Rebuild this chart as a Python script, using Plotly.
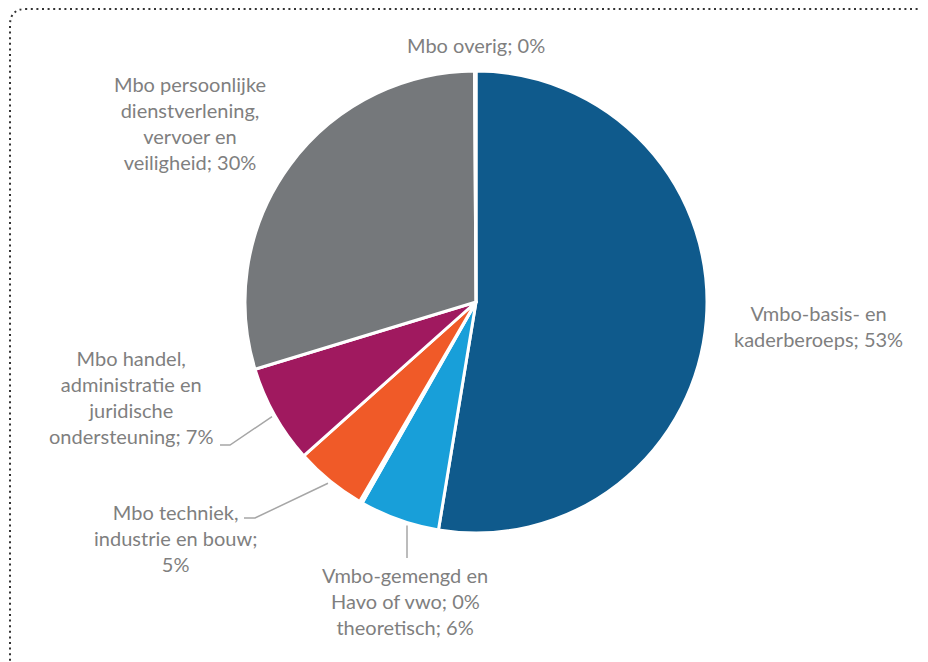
import math
import plotly.graph_objects as go

# slices, clockwise from 12 o'clock
categories = [
    "Vmbo-basis- en kaderberoeps",
    "Vmbo-gemengd en theoretisch",
    "Havo of vwo",
    "Mbo techniek, industrie en bouw",
    "Mbo handel, administratie en juridische ondersteuning",
    "Mbo persoonlijke dienstverlening, vervoer en veiligheid",
    "Mbo overig",
]
shares = [52.6, 5.6, 0.2, 5.0, 6.9, 29.6, 0.1]
colors = ["#0F5A8C", "#189FD9", "#F7A81B", "#F05A28", "#A0195F", "#75787B", "#B5B7B9"]

# how each label is wrapped in the original
label_wrap = [
    "Vmbo-basis- en<br>kaderberoeps; {}%",
    "Vmbo-gemengd en<br> <br>theoretisch; {}%",
    "Havo of vwo; {}%",
    "Mbo techniek,<br>industrie en bouw;<br>{}%",
    "Mbo handel,<br>administratie en<br>juridische<br>ondersteuning; {}%",
    "Mbo persoonlijke<br>dienstverlening,<br>vervoer en<br>veiligheid; {}%",
    "Mbo overig; {}%",
]

W, H = 928, 662
OFF = 8  # page body margin
CX, CY, R = 476, 302, 231
TXT = "#7F7F7F"
FONT = "Lato"

# label centres in pixels (layout only)
label_pos = [(818, 326), (405, 601), (405, 601), (175, 538), (131, 397), (190, 123), (476, 45)]
# leader line bends / ends (layout only), by slice index; None x = vertical leader
leader_end = {
    4: [(230, 445), (220, 445)],
    3: [(255, 518), (244, 518)],
    1: [(407, 558)],
}
vertical_leader = {1}

fig = go.Figure()

px0, py0 = CX - OFF, CY - OFF
fig.add_trace(go.Pie(
    labels=categories,
    values=shares,
    sort=False,
    direction="clockwise",
    rotation=0,
    marker=dict(colors=colors, line=dict(color="white", width=3)),
    textinfo="none",
    hoverinfo="label+percent",
    showlegend=False,
    domain=dict(x=[(px0 - R) / W, (px0 + R) / W], y=[1 - (py0 + R) / H, 1 - (py0 - R) / H]),
))

total = sum(shares)
cum = 0
for i, v in enumerate(shares):
    mid = (cum + v / 2) / total * 2 * math.pi
    cum += v
    pct = round(v / total * 100)
    lx, ly = label_pos[i]
    fig.add_annotation(
        x=lx, y=ly, xref="x", yref="y", text=label_wrap[i].format(pct),
        showarrow=False, align="center", xanchor="center", yanchor="middle",
        font=dict(family=FONT, size=20, color=TXT),
    )
    if i in leader_end:
        if i in vertical_leader:
            sx = leader_end[i][0][0]
            sy = CY + math.sqrt((R + 3) ** 2 - (sx - CX) ** 2)
        else:
            sx = CX + (R + 3) * math.sin(mid)
            sy = CY - (R + 3) * math.cos(mid)
        xs, ys = [sx], [sy]
        for px, py in leader_end[i]:
            xs.append(px)
            ys.append(py)
        fig.add_trace(go.Scatter(x=xs, y=ys, mode="lines", line=dict(color="#A6A6A6", width=1.5),
                                 hoverinfo="skip", showlegend=False))


def to_paper(x, y):
    return (x - OFF) / W, 1 - (y - OFF) / H


# dotted frame with rounded top-left corner
pts = [to_paper(10, 700), to_paper(10, 25), to_paper(10, 9), to_paper(26, 9), to_paper(960, 9)]
path = "M {:.5f},{:.5f} L {:.5f},{:.5f} Q {:.5f},{:.5f} {:.5f},{:.5f} L {:.5f},{:.5f}".format(
    *[c for p in pts for c in p])
fig.add_shape(type="path", xref="paper", yref="paper", path=path,
              line=dict(color="#333333", width=2, dash="2px,3.6px"))

fig.update_xaxes(range=[OFF, W + OFF], visible=False, fixedrange=True)
fig.update_yaxes(range=[H + OFF, OFF], visible=False, fixedrange=True)
fig.update_layout(
    width=W, height=H,
    margin=dict(l=0, r=0, t=0, b=0),
    paper_bgcolor="white", plot_bgcolor="rgba(0,0,0,0)",
    font=dict(family=FONT),
)

fig.write_html("out.html")
